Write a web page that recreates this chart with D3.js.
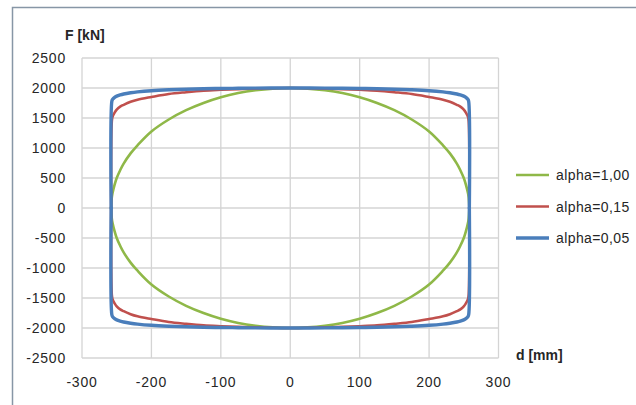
<!DOCTYPE html>
<html lang="en">
<head>
    <meta charset="UTF-8">
    <title>Hysteresis loops</title>
    <script src="https://d3js.org/d3.v7.min.js"></script>
    <style>
        body { margin: 0; background: #fff; }
        text { font-family: "Liberation Sans", Arial, sans-serif; fill: #262626; }
    </style>
</head>
<body>
<script>
// displacement d [mm] (shared by all loops)
const displacement = [-258, -257, -256, -253, -250, -245, -240, -230, -220, -200, -175, -150, -125, -100, -75, -50, -25, 0,
    25, 50, 75, 100, 125, 150, 175, 200, 220, 230, 240, 245, 250, 253, 256, 257, 258];

// force F [kN], upper branch (moving right) and lower branch (moving left)
const greenUpper = [0, 180, 250, 390, 500, 630, 740, 910, 1045, 1275, 1475, 1630, 1750, 1845, 1915, 1962, 1990, 2000,
    1990, 1962, 1915, 1845, 1750, 1630, 1475, 1275, 1045, 910, 740, 630, 500, 390, 250, 180, 0];
const greenLower = [0, -180, -250, -390, -500, -630, -740, -910, -1045, -1275, -1475, -1630, -1750, -1845, -1915, -1962, -1990, -2000,
    -1990, -1962, -1915, -1845, -1750, -1630, -1475, -1275, -1045, -910, -740, -630, -500, -390, -250, -180, 0];
const redUpper = [0, 1450, 1520, 1590, 1640, 1690, 1720, 1770, 1805, 1850, 1900, 1930, 1955, 1970, 1982, 1990, 1997, 2000,
    1997, 1990, 1982, 1970, 1955, 1930, 1900, 1850, 1805, 1770, 1720, 1690, 1640, 1590, 1520, 1450, 0];
const redLower = [0, -1450, -1520, -1590, -1640, -1690, -1720, -1770, -1805, -1850, -1900, -1930, -1955, -1970, -1982, -1990, -1997, -2000,
    -1997, -1990, -1982, -1970, -1955, -1930, -1900, -1850, -1805, -1770, -1720, -1690, -1640, -1590, -1520, -1450, 0];
const blueUpper = [0, 1780, 1810, 1845, 1865, 1885, 1900, 1920, 1935, 1955, 1970, 1980, 1987, 1992, 1995, 1998, 2000, 2000,
    2000, 1998, 1995, 1992, 1987, 1980, 1970, 1955, 1935, 1920, 1900, 1885, 1865, 1845, 1810, 1780, 0];
const blueLower = [0, -1780, -1810, -1845, -1865, -1885, -1900, -1920, -1935, -1955, -1970, -1980, -1987, -1992, -1995, -1998, -2000, -2000,
    -2000, -1998, -1995, -1992, -1987, -1980, -1970, -1955, -1935, -1920, -1900, -1885, -1865, -1845, -1810, -1780, 0];

const seriesNames = ["alpha=1,00", "alpha=0,15", "alpha=0,05"];
const seriesColors = ["#8fb848", "#c0504d", "#4a7ebb"];
const seriesWidths = [2.6, 2.6, 3.4];

const xTicks = [-300, -200, -100, 0, 100, 200, 300];
const yTicks = [-2500, -2000, -1500, -1000, -500, 0, 500, 1000, 1500, 2000, 2500];

const series = [
    {upper: greenUpper, lower: greenLower},
    {upper: redUpper, lower: redLower},
    {upper: blueUpper, lower: blueLower}
];

const W = 636, H = 405;
const svg = d3.select("body").append("svg")
    .attr("width", W)
    .attr("height", H);

// outer frame (only top and left edges are inside the picture)
svg.append("path")
    .attr("d", `M12.5,${H} V7.5 H${W}`)
    .attr("fill", "none")
    .attr("stroke", "#8796a6")
    .attr("stroke-width", 1.5);

const x = d3.scaleLinear().domain([-300, 300]).range([82, 498.5]);
const y = d3.scaleLinear().domain([-2500, 2500]).range([358, 58]);

// grid
svg.append("g").selectAll("line")
    .data(yTicks)
    .enter().append("line")
    .attr("x1", x(-300)).attr("x2", x(300))
    .attr("y1", d => y(d)).attr("y2", d => y(d))
    .attr("stroke", "#d4d4d4")
    .attr("stroke-width", 1.3);

svg.append("g").selectAll("line")
    .data(xTicks)
    .enter().append("line")
    .attr("y1", y(-2500)).attr("y2", y(2500))
    .attr("x1", d => x(d)).attr("x2", d => x(d))
    .attr("stroke", "#d4d4d4")
    .attr("stroke-width", 1.3);

// tick labels
svg.append("g").selectAll("text")
    .data(yTicks)
    .enter().append("text")
    .attr("x", 66)
    .attr("y", d => y(d))
    .attr("dy", "0.36em")
    .attr("text-anchor", "end")
    .attr("font-size", 14)
    .attr("letter-spacing", 0.8)
    .text(d => d);

svg.append("g").selectAll("text")
    .data(xTicks)
    .enter().append("text")
    .attr("x", d => x(d))
    .attr("y", 382)
    .attr("dy", "0.36em")
    .attr("text-anchor", "middle")
    .attr("font-size", 14)
    .attr("letter-spacing", 0.8)
    .text(d => d);

// axis titles
svg.append("text")
    .attr("x", 65).attr("y", 35).attr("dy", "0.36em")
    .attr("font-size", 14).attr("font-weight", "bold")
    .text("F [kN]");

svg.append("text")
    .attr("x", 516).attr("y", 355).attr("dy", "0.36em")
    .attr("font-size", 14).attr("font-weight", "bold")
    .text("d [mm]");

// loops
const line = d3.line()
    .x(p => x(p[0]))
    .y(p => y(p[1]))
    .curve(d3.curveCatmullRom.alpha(0.5));

series.forEach((s, i) => {
    [s.upper, s.lower].forEach(branch => {
        svg.append("path")
            .attr("d", line(displacement.map((d, k) => [d, branch[k]])))
            .attr("fill", "none")
            .attr("stroke", seriesColors[i])
            .attr("stroke-width", seriesWidths[i])
            .attr("stroke-linejoin", "round")
            .attr("stroke-linecap", "round");
    });
});

// legend
const legendY = [175, 206.5, 238];
const legend = svg.append("g").selectAll("g")
    .data(seriesNames)
    .enter().append("g")
    .attr("transform", (d, i) => `translate(516,${legendY[i]})`);

legend.append("line")
    .attr("x1", 0).attr("x2", 33)
    .attr("stroke", (d, i) => seriesColors[i])
    .attr("stroke-width", (d, i) => seriesWidths[i]);

legend.append("text")
    .attr("x", 40)
    .attr("dy", "0.36em")
    .attr("font-size", 14)
    .attr("letter-spacing", 0.4)
    .text(d => d);
</script>
</body>
</html>
